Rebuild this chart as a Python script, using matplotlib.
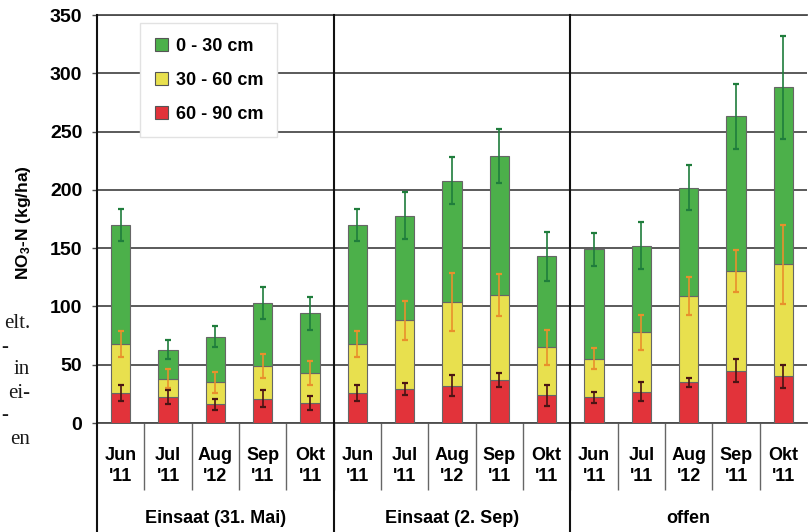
import numpy as np
import matplotlib
matplotlib.use('Agg')
import matplotlib.pyplot as plt
from matplotlib.patches import Patch

plt.rcParams['font.family'] = ['Liberation Sans', 'DejaVu Sans']
plt.rcParams['font.weight'] = 'bold'
plt.rcParams['mathtext.fontset'] = 'custom'
plt.rcParams['mathtext.rm'] = 'Liberation Sans:bold'
plt.rcParams['mathtext.default'] = 'rm'

months = ['Jun', 'Jul', 'Aug', 'Sep', 'Okt'] * 3
years = ["'11", "'11", "'12", "'11", "'11"] * 3
groups = ['Einsaat (31. Mai)', 'Einsaat (2. Sep)', 'offen']
layers = ['0 - 30 cm', '30 - 60 cm', '60 - 90 cm']

# NO3-N per soil layer (kg/ha)
n_60_90 = [26, 22, 16, 21, 17, 26, 29, 32, 37, 24, 22, 27, 35, 45, 40]
n_30_60 = [42, 16, 19, 28, 26, 42, 59, 72, 73, 41, 33, 51, 74, 85, 96]
n_0_30 = [102, 25, 39, 54, 51, 102, 90, 104, 119, 78, 94, 74, 93, 133, 152]
# standard errors, drawn at the top of each layer
err_0_30 = [14, 8, 9, 14, 14, 14, 20, 20, 23, 21, 14, 20, 19, 28, 44]
err_30_60 = [11, 8, 9, 10, 10, 11, 17, 25, 18, 15, 9, 15, 16, 18, 34]
err_60_90 = [7, 6, 5, 7, 6, 7, 5, 9, 6, 9, 5, 8, 4, 10, 10]

c_green, c_yellow, c_red = '#4cb04a', '#e8e04e', '#e2333a'

red = np.array(n_60_90)
yel = np.array(n_30_60)
grn = np.array(n_0_30)
x = np.arange(len(months))
w = 0.41

fig = plt.figure(figsize=(8.1, 5.32), dpi=100)
ax = fig.add_axes([97 / 810, 1 - 423 / 532, 710 / 810, 408 / 532])

edge = dict(edgecolor='#666666', linewidth=0.8, zorder=3)
ax.bar(x, red, w, color=c_red, **edge)
ax.bar(x, yel, w, bottom=red, color=c_yellow, **edge)
ax.bar(x, grn, w, bottom=red + yel, color=c_green, **edge)

eb = dict(fmt='none', elinewidth=1.2, capsize=2.2, capthick=1.6, zorder=4)
ax.errorbar(x, red + yel + grn, yerr=err_0_30, ecolor='#1f7d3c', **eb)
ax.errorbar(x, red + yel, yerr=err_30_60, ecolor='#e8902c', **eb)
ax.errorbar(x, red, yerr=err_60_90, ecolor='#4a1414', **eb)

ax.set_xlim(-0.5, len(months) - 0.5)
ax.set_ylim(0, 350)
ax.set_yticks(np.arange(0, 351, 50))
ax.yaxis.grid(True, color='#4d4d4d', linewidth=1.3)
ax.set_axisbelow(True)

ax.spines['right'].set_visible(False)
ax.spines['left'].set_visible(False)
for s in ['top', 'bottom']:
    ax.spines[s].set_color('#4d4d4d')
    ax.spines[s].set_linewidth(1.3)

ax.tick_params(axis='y', labelsize=14, length=3.6, width=1, color='#4d4d4d', pad=7)
ax.set_xticks(x)
ax.set_xticklabels([m + '\n' + y for m, y in zip(months, years)], fontsize=13)
ax.tick_params(axis='x', which='major', length=0, pad=17)
for lbl in ax.get_xticklabels():
    lbl.set_linespacing(1.35)
ax.set_xticks(np.arange(0.5, len(months) - 1, 1), minor=True)
ax.tick_params(axis='x', which='minor', direction='out', length=48, width=1, color='#666666')

ax.set_ylabel(r'NO$_3$-N (kg/ha)', fontsize=12.5, fontweight='bold')
ax.yaxis.set_label_coords(-0.09, 0.49)

# group frame: left edge and separators reach down through the label rows
xt = ax.get_xaxis_transform()
for xv in [-0.5, 4.5, 9.5]:
    ax.plot([xv, xv], [-0.267, 1], transform=xt, color='#111111', linewidth=1.5,
            clip_on=False, zorder=5)
for i, g in enumerate(groups):
    ax.text(5 * i + 2, -0.233, g, transform=xt, ha='center', va='center',
            fontsize=13, fontweight='bold')

handles = [Patch(facecolor=c, edgecolor='#555555', linewidth=0.8)
           for c in [c_green, c_yellow, c_red]]
leg = ax.legend(handles, layers, loc='upper left', bbox_to_anchor=(0.061, 0.98),
                borderaxespad=0, fontsize=13, frameon=True, fancybox=False,
                edgecolor='#e2e2e2', framealpha=1, handlelength=0.75,
                handleheight=0.75, handletextpad=0.4, labelspacing=0.95,
                borderpad=0.8)
leg.set_zorder(6)

# running text of the page beside the figure
side = [('elt.', 324), ('-', 347), ('in', 370), ('ei-', 393), ('-', 416), ('en', 440)]
for t, yp in side:
    if t == '-':
        fig.text(1 / 810, 1 - yp / 532, t, ha='left', va='center', fontsize=15,
                 family='Liberation Serif', fontweight='normal', color='#1a1a1a')
    else:
        fig.text(30 / 810, 1 - yp / 532, t, ha='right', va='center', fontsize=15,
                 family='Liberation Serif', fontweight='normal', color='#1a1a1a')

fig.savefig('out.png', dpi=100)
